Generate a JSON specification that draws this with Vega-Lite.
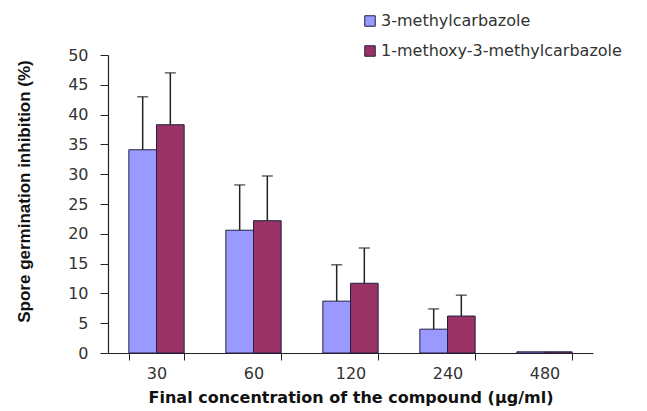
{
  "$schema": "https://vega.github.io/schema/vega-lite/v6.json",
  "width": 485,
  "height": 298,
  "autosize": {"type": "none"},
  "padding": {"left": 108, "top": 55, "right": 54, "bottom": 58},
  "background": "white",
  "config": {
    "font": "Liberation Sans",
    "view": {"stroke": null},
    "axisY": {
      "titleFont": "Liberation Sans",
      "titleFontSize": 17,
      "titleFontWeight": "bold",
      "titleColor": "#111",
      "titlePadding": 34,
      "titleY": 136,
      "values": [0, 5, 10, 15, 20, 25, 30, 35, 40, 45, 50],
      "labelOverlap": false,
      "labelFont": "DejaVu Sans",
      "labelFontSize": 16,
      "labelColor": "#333",
      "labelPadding": 12,
      "tickSize": 8,
      "tickColor": "#222",
      "domainColor": "#222",
      "domainWidth": 1.2,
      "grid": false
    }
  },
  "data": {
    "values": [
      {"conc": "30", "compound": "3-methylcarbazole", "value": 34.1, "upper": 43.0},
      {"conc": "30", "compound": "1-methoxy-3-methylcarbazole", "value": 38.3, "upper": 47.0},
      {"conc": "60", "compound": "3-methylcarbazole", "value": 20.6, "upper": 28.2},
      {"conc": "60", "compound": "1-methoxy-3-methylcarbazole", "value": 22.2, "upper": 29.7},
      {"conc": "120", "compound": "3-methylcarbazole", "value": 8.7, "upper": 14.8},
      {"conc": "120", "compound": "1-methoxy-3-methylcarbazole", "value": 11.7, "upper": 17.6},
      {"conc": "240", "compound": "3-methylcarbazole", "value": 4.0, "upper": 7.4},
      {"conc": "240", "compound": "1-methoxy-3-methylcarbazole", "value": 6.2, "upper": 9.7},
      {"conc": "480", "compound": "3-methylcarbazole", "value": 0.2, "upper": null},
      {"conc": "480", "compound": "1-methoxy-3-methylcarbazole", "value": 0.2, "upper": null}
    ]
  },
  "encoding": {
    "x": {
      "field": "conc",
      "type": "nominal",
      "sort": ["30", "60", "120", "240", "480"],
      "scale": {"paddingInner": 0.43, "paddingOuter": 0.215},
      "axis": {
        "title": "Final concentration of the compound (µg/ml)",
        "titleFont": "DejaVu Sans",
        "titleFontSize": 16,
        "titleFontWeight": "bold",
        "titleColor": "#111",
        "titlePadding": 8,
        "labelAngle": 0,
        "labelFont": "DejaVu Sans",
        "labelFontSize": 16,
        "labelColor": "#333",
        "labelPadding": 5,
        "tickBand": "extent",
        "tickSize": 7,
        "tickColor": "#222",
        "domainColor": "#222",
        "domainWidth": 1.2
      }
    },
    "xOffset": {
      "field": "compound",
      "type": "nominal",
      "sort": ["3-methylcarbazole", "1-methoxy-3-methylcarbazole"]
    }
  },
  "layer": [
    {
      "mark": {"type": "bar", "stroke": "#202040", "strokeWidth": 1},
      "encoding": {
        "y": {
          "field": "value",
          "type": "quantitative",
          "title": "Spore germination inhibition (%)",
          "scale": {"domain": [0, 50]}
        },
        "color": {
          "field": "compound",
          "type": "nominal",
          "scale": {
            "domain": ["3-methylcarbazole", "1-methoxy-3-methylcarbazole"],
            "range": ["#9999ff", "#993366"]
          },
          "legend": {
            "title": null,
            "orient": "none",
            "legendX": 254,
            "legendY": -42,
            "symbolType": "square",
            "symbolSize": 110,
            "symbolStrokeColor": "#202040",
            "symbolStrokeWidth": 1,
            "labelFont": "DejaVu Sans",
            "labelFontSize": 16,
            "labelColor": "#333",
            "labelLimit": 400,
            "rowPadding": 14,
            "labelOffset": 3
          }
        }
      }
    },
    {
      "transform": [{"filter": "datum.upper != null"}],
      "mark": {"type": "rule", "color": "#222", "strokeWidth": 1.5},
      "encoding": {
        "y": {"field": "value", "type": "quantitative", "title": "Spore germination inhibition (%)"},
        "y2": {"field": "upper"}
      }
    },
    {
      "transform": [{"filter": "datum.upper != null"}],
      "mark": {"type": "tick", "color": "#222", "size": 11, "thickness": 1.5},
      "encoding": {
        "y": {"field": "upper", "type": "quantitative", "title": "Spore germination inhibition (%)"}
      }
    }
  ]
}
